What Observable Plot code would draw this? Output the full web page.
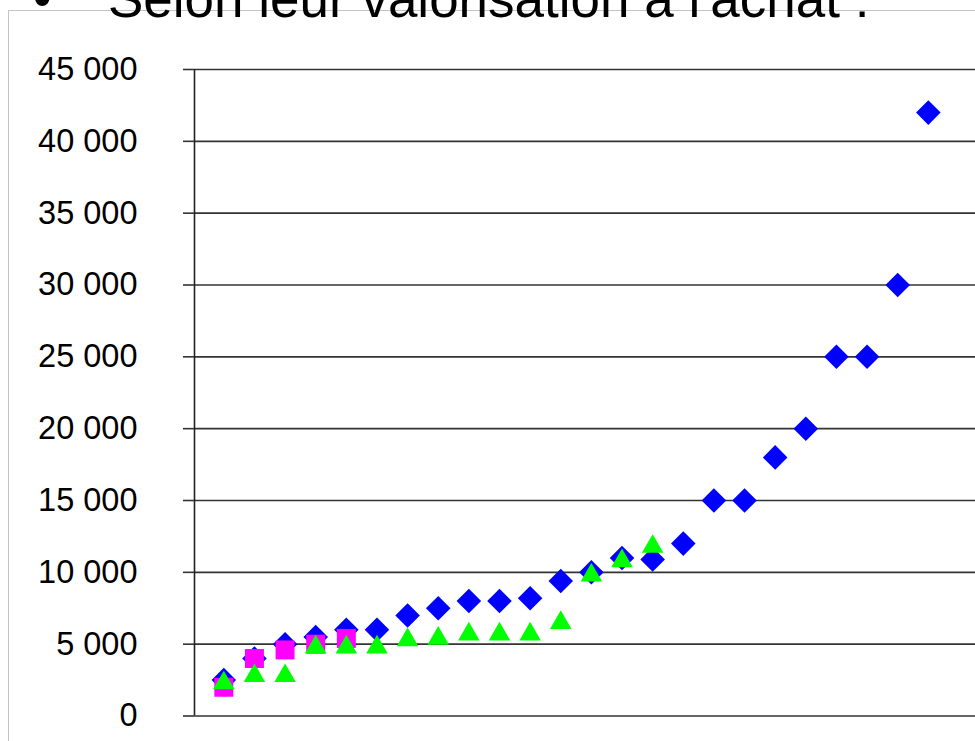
<!DOCTYPE html>
<html><head><meta charset="utf-8">
<script src="https://cdn.jsdelivr.net/npm/d3@7"></script>
<script src="https://cdn.jsdelivr.net/npm/@observablehq/plot@0.6"></script>
<style>
body{margin:0;background:#fff;}
#wrap{position:relative;width:975px;height:741px;overflow:hidden;background:#fff;font-family:"Liberation Sans",Arial,sans-serif;}
#frame{position:absolute;left:8px;top:10px;width:1000px;height:800px;border-left:1px solid #c4c4c4;border-top:1px solid #c4c4c4;}
#chart{position:absolute;left:0;top:0;}
#title{position:absolute;left:0;top:0;}
</style></head><body>
<div id="wrap">
<div id="frame"></div>
<div id="chart"></div>
<svg id="title" width="975" height="40" font-family="Liberation Sans, Arial, sans-serif"><text x="33" y="17" font-size="53" fill="#000">•</text><text x="108" y="17" font-size="53" fill="#000">Selon leur valorisation à l'achat :</text></svg>
</div>
<script>
// Ranks (categories along the horizontal axis)
const blueRanks = [1,2,3,4,5,6,7,8,9,10,11,12,13,14,15,16,17,18,19,20,21,22,23,24];
const blueValues = [2500,4000,5000,5500,6000,6000,7000,7500,8000,8000,8200,9400,10000,11000,10900,12000,15000,15000,18000,20000,25000,25000,30000,42000];
const pinkRanks = [1,2,3,4,5];
const pinkValues = [2000,4000,4600,5000,5400];
const greenRanks = [1,2,3,4,5,6,7,8,9,10,11,12,13,14,15];
const greenValues = [2500,3000,3000,5000,5000,5000,5500,5600,5900,5900,5900,6700,10000,11000,12000];
const yTicks = [0,5000,10000,15000,20000,25000,30000,35000,40000,45000];

const toRows = (xs, ys) => xs.map((x, i) => ({x, y: ys[i]}));
const blue = toRows(blueRanks, blueValues);
const pink = toRows(pinkRanks, pinkValues);
const green = toRows(greenRanks, greenValues);

const xDomain = [0.043, 25.54];
const fmt = d => d3.format(",")(d).replace(/,/g, " ");

const chart = Plot.plot({
  width: 975, height: 741,
  marginTop: 69, marginBottom: 25.5, marginLeft: 194, marginRight: 0,
  x: {domain: xDomain, axis: null},
  y: {domain: [0, 45000], axis: null},
  style: {background: "transparent", fontFamily: "Liberation Sans, Arial, sans-serif"},
  marks: [
    Plot.ruleY(yTicks, {stroke: "#333", strokeWidth: 1.6}),
    Plot.ruleX([xDomain[0]], {stroke: "#222", strokeWidth: 1.6}),
    Plot.axisY({ticks: yTicks, label: null, tickSize: 11, tickPadding: 46, tickFormat: fmt, fontSize: 32.5, stroke: "#333", strokeWidth: 1.6, fill: "#000"}),
    Plot.dot(blue, {x: "x", y: "y", symbol: "square", r: 9.8, rotate: 45, fill: "#0000ff", stroke: "none"}),
    Plot.dot(pink, {x: "x", y: "y", symbol: "square", r: 10.7, fill: "#ff00ff", stroke: "none"}),
    Plot.dot(green, {x: "x", y: "y", symbol: "triangle", r: 8, dy: 3, fill: "#00ff00", stroke: "none"})
  ]
});
document.getElementById("chart").appendChild(chart);
</script>
</body></html>
